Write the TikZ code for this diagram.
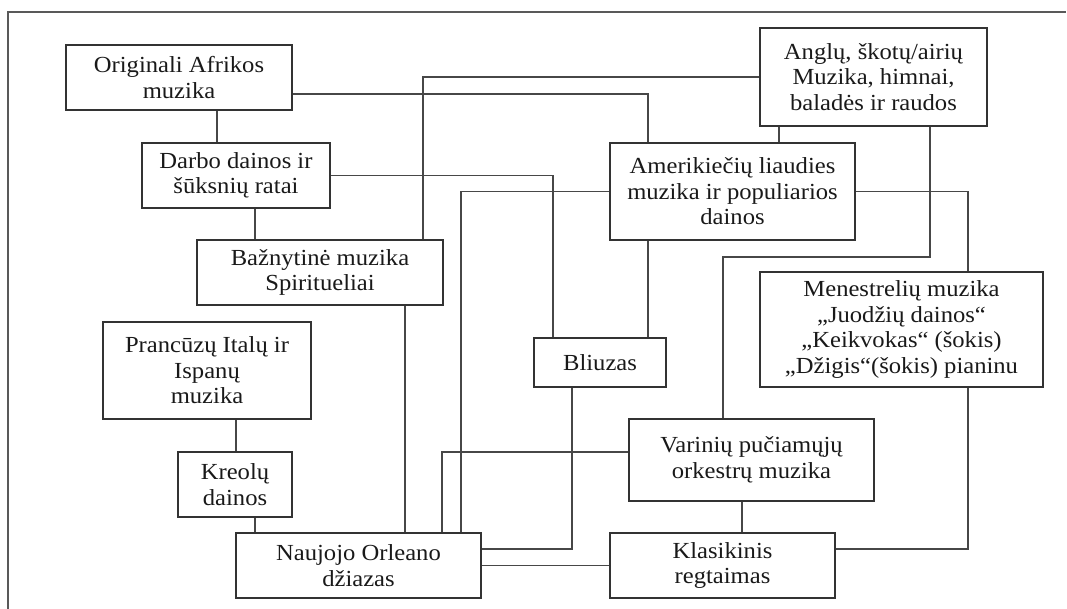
\documentclass[tikz,border=0pt]{standalone}
\usepackage{fontspec}
\setmainfont{Liberation Serif}[FakeStretch=1.07]
\begin{document}
\begin{tikzpicture}[x=1pt,y=-1pt,
  box/.style={draw=black!80, line width=1.6pt, align=center, inner sep=0pt,
    font=\fontsize{23}{25.5}\selectfont, text=black!90},
  link/.style={draw=black!72, line width=1.5pt},
  frame/.style={draw=black!65, line width=1.5pt}]
\useasboundingbox (0,0) rectangle (1067,609);
\draw[frame] (8,612) -- (8,12) -- (1066,12);

% boxes
\node[box, minimum width=226pt, minimum height=65pt] (afr) at (179,77.5) {Originali Afrikos\\muzika};
\node[box, minimum width=188pt, minimum height=65pt] (darbo) at (236,175.5) {Darbo dainos ir\\šūksnių ratai};
\node[box, minimum width=246pt, minimum height=65pt] (baz) at (320,272.5) {Bažnytinė muzika\\Spiritueliai};
\node[box, minimum width=227pt, minimum height=98pt] (angl) at (873.5,77) {Anglų, škotų/airių\\Muzika, himnai,\\baladės ir raudos};
\node[box, minimum width=245pt, minimum height=97pt] (amer) at (732.5,191.5) {Amerikiečių liaudies\\muzika ir populiarios\\dainos};
\node[box, minimum width=283pt, minimum height=115pt] (men) at (901.5,329.5) {Menestrelių muzika\\„Juodžių dainos“\\„Keikvokas“ (šokis)\\„Džigis“(šokis) pianinu};
\node[box, minimum width=208pt, minimum height=97pt] (pranc) at (207,370.5) {Prancūzų Italų ir\\Ispanų\\muzika};
\node[box, minimum width=114pt, minimum height=65pt] (kreol) at (235,484.5) {Kreolų\\dainos};
\node[box, minimum width=245pt, minimum height=65pt] (nauj) at (358.5,565.5) {Naujojo Orleano\\džiazas};
\node[box, minimum width=132pt, minimum height=49pt] (bliuz) at (600,362.5) {Bliuzas};
\node[box, minimum width=245pt, minimum height=82pt] (var) at (751.5,460) {Varinių pučiamųjų\\orkestrų muzika};
\node[box, minimum width=225pt, minimum height=65pt] (klas) at (722.5,565.5) {Klasikinis\\regtaimas};

% column / row helpers
\foreach \xx in {217,236,255,405,423,442,461,553,572,648,723,742,779,930,968}
  \coordinate (v\xx) at (\xx,0);
\coordinate (h257) at (0,257);

% connectors
\draw[link] (afr.south -| v217) -- (darbo.north -| v217);
\draw[link] (darbo.south -| v255) -- (baz.north -| v255);
\draw[link] ([yshift=-16.5pt]afr.east) -| (amer.north -| v648);
\draw[link] (baz.north -| v423) |- (angl.west);
\draw[link] (darbo.east) -| (bliuz.north -| v553);
\draw[link] (amer.west) -| (nauj.north -| v461);
\draw[link] (baz.south -| v405) -- (nauj.north -| v405);
\draw[link] (amer.south -| v648) -- (bliuz.north -| v648);
\draw[link] (angl.south -| v779) -- (amer.north -| v779);
\draw[link] (angl.south -| v930) -- (v930 |- h257) -| (var.north -| v723);
\draw[link] (amer.east) -| (men.north -| v968);
\draw[link] (men.south -| v968) |- ([yshift=16.5pt]klas.east);
\draw[link] (var.south -| v742) -- (klas.north -| v742);
\draw[link] (kreol.south -| v255) -- (nauj.north -| v255);
\draw[link] (pranc.south -| v236) -- (kreol.north -| v236);
\draw[link] ([yshift=8pt]var.west) -| (nauj.north -| v442);
\draw[link] (bliuz.south -| v572) |- ([yshift=16.5pt]nauj.east);
\draw[link] (nauj.east) -- (klas.west);
\end{tikzpicture}
\end{document}
